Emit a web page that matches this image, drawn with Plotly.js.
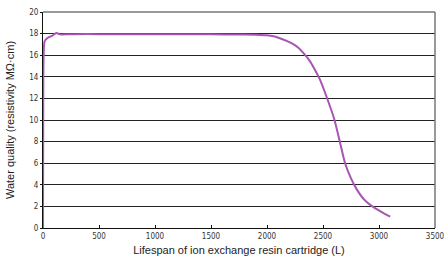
<!DOCTYPE html>
<html>
<head>
<meta charset="utf-8">
<script src="https://cdn.plot.ly/plotly-3.0.1.min.js"></script>
<style>html,body{margin:0;padding:0;background:#fff;overflow:hidden;}#chart{width:444px;height:262px;}</style>
</head>
<body>
<div id="chart"></div>
<script>
const lifespan = [0, 2, 6, 15, 40, 80, 120, 150, 250, 500, 1000, 1500, 1800, 1900, 2000, 2060, 2120, 2180, 2230, 2280, 2330, 2380, 2420, 2470, 2530, 2600, 2650, 2700, 2750, 2800, 2870, 2940, 3020, 3100];
const quality = [0, 10, 16, 17.3, 17.6, 17.8, 18.05, 17.93, 17.95, 17.95, 17.95, 17.93, 17.92, 17.9, 17.85, 17.75, 17.55, 17.3, 17.05, 16.7, 16.15, 15.5, 14.8, 13.8, 12.2, 10.1, 8.0, 5.9, 4.6, 3.6, 2.6, 2.0, 1.5, 1.05];
const xTicks = [0, 500, 1000, 1500, 2000, 2500, 3000, 3500];
const yTicks = [0, 2, 4, 6, 8, 10, 12, 14, 16, 18, 20];

const trace = {
  x: lifespan, y: quality, type: 'scatter', mode: 'lines',
  line: {color: '#a855b4', width: 2, shape: 'spline', smoothing: 0.8},
  hoverinfo: 'skip'
};
const layout = {
  width: 444, height: 262,
  margin: {l: 43, r: 9, t: 12, b: 34},
  paper_bgcolor: '#fff', plot_bgcolor: '#fff',
  showlegend: false,
  font: {family: 'Liberation Sans, Arial, sans-serif', color: '#222'},
  xaxis: {
    range: [0, 3500], tickvals: xTicks, ticktext: xTicks.map(String),
    showgrid: false, zeroline: false,
    showline: true, linecolor: '#111', linewidth: 1,
    ticks: 'inside', ticklen: 3, tickcolor: '#111',
    ticklabeloverflow: 'allow',
    tickfont: {size: 8, family: 'DejaVu Sans Condensed, Liberation Sans, sans-serif', color: '#333'},
    title: {text: 'Lifespan of ion exchange resin cartridge (L)', font: {size: 11, color: '#222'}, standoff: 6}
  },
  yaxis: {
    range: [0, 20], tickvals: yTicks, ticktext: yTicks.map(String),
    showgrid: true, gridcolor: '#222', gridwidth: 1, zeroline: false,
    showline: true, linecolor: '#111', linewidth: 1,
    ticks: 'outside', ticklen: 2, tickcolor: '#111',
    tickfont: {size: 8, family: 'DejaVu Sans Condensed, Liberation Sans, sans-serif', color: '#333'},
    title: {text: 'Water quality (resistivity MΩ·cm)', font: {size: 11, color: '#222'}, standoff: 12}
  },
  shapes: [
    {type: 'line', xref: 'paper', yref: 'paper', x0: 0, x1: 1, y0: 1, y1: 1, line: {color: '#777', width: 1.5}},
    {type: 'line', xref: 'paper', yref: 'paper', x0: 1, x1: 1, y0: 0, y1: 1, line: {color: '#777', width: 1.5}}
  ]
};
Plotly.newPlot('chart', [trace], layout, {staticPlot: true, displayModeBar: false});
</script>
</body>
</html>
